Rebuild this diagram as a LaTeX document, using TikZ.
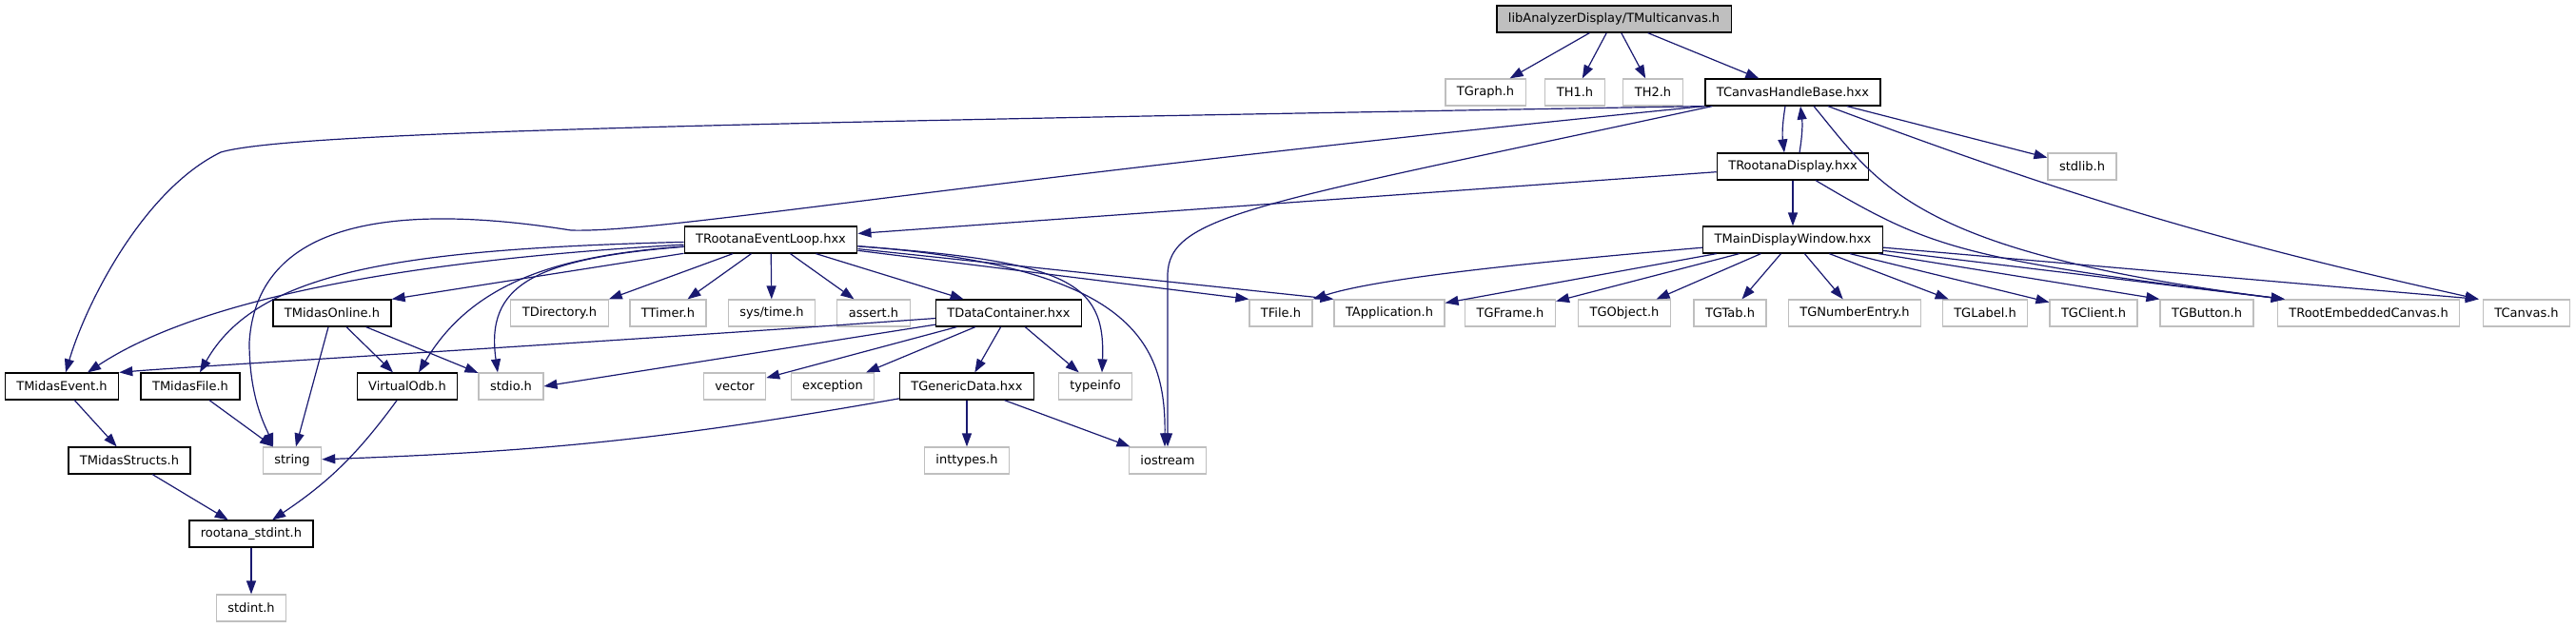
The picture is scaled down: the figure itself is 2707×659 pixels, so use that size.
\documentclass[tikz,border=0pt]{standalone}
\usepackage{fontspec}
\setmainfont{DejaVu Sans}
\usetikzlibrary{arrows.meta}
\definecolor{edgeblue}{HTML}{191970}
\definecolor{sysgray}{HTML}{BFBFBF}
\tikzset{
  hdr/.style={rectangle, draw=black, line width=1.2pt, fill=white, minimum height=28pt,
    inner xsep=12pt, inner ysep=0pt, font=\fontsize{13}{15}\selectfont},
  sys/.style={draw=sysgray},
  mainfile/.style={fill=sysgray},
  dep/.style={draw=edgeblue, line width=1.2pt, -{Triangle[length=14pt,width=10pt]}}
}
\begin{document}
\begin{tikzpicture}[x=1pt,y=-1pt]
\useasboundingbox (0,0) rectangle (2707,659);

      \begin{scope}[every node/.style={hdr}]
        \node[mainfile] (multi) at (1696,20) {libAnalyzerDisplay/TMulticanvas.h};
        \node[sys] (tgraph) at (1561,97) {TGraph.h};
        \node[sys] (th1) at (1655,97) {TH1.h};
        \node[sys] (th2) at (1737,97) {TH2.h};
        \node (hbase) at (1884,97) {TCanvasHandleBase.hxx};
        \node (display) at (1884,175) {TRootanaDisplay.hxx};
        \node[sys] (stdlib) at (2188,175) {stdlib.h};
        \node (eventloop) at (810,252) {TRootanaEventLoop.hxx};
        \node (mainwin) at (1884,252) {TMainDisplayWindow.hxx};
        \node (midasonline) at (349,329) {TMidasOnline.h};
        \node[sys] (tdirectory) at (588,329) {TDirectory.h};
        \node[sys] (ttimer) at (702,329) {TTimer.h};
        \node[sys] (systime) at (811,329) {sys/time.h};
        \node[sys] (assert) at (918,329) {assert.h};
        \node (datacont) at (1060,329) {TDataContainer.hxx};
        \node[sys] (tfile) at (1346,329) {TFile.h};
        \node[sys] (tapplication) at (1460,329) {TApplication.h};
        \node[sys] (tgframe) at (1587,329) {TGFrame.h};
        \node[sys] (tgobject) at (1707,329) {TGObject.h};
        \node[sys] (tgtab) at (1818,329) {TGTab.h};
        \node[sys] (tgnumber) at (1949,329) {TGNumberEntry.h};
        \node[sys] (tglabel) at (2086,329) {TGLabel.h};
        \node[sys] (tgclient) at (2200,329) {TGClient.h};
        \node[sys] (tgbutton) at (2319,329) {TGButton.h};
        \node[sys] (trootemb) at (2489,329) {TRootEmbeddedCanvas.h};
        \node[sys] (tcanvas) at (2655,329) {TCanvas.h};
        \node (midasevent) at (65,406) {TMidasEvent.h};
        \node (midasfile) at (200,406) {TMidasFile.h};
        \node (virtualodb) at (428,406) {VirtualOdb.h};
        \node[sys] (stdio) at (537,406) {stdio.h};
        \node[sys] (vector) at (772,406) {vector};
        \node[sys] (exception) at (875,406) {exception};
        \node (genericdata) at (1016,406) {TGenericData.hxx};
        \node[sys] (typeinfo) at (1151,406) {typeinfo};
        \node (midasstructs) at (136,484) {TMidasStructs.h};
        \node[sys] (string) at (307,484) {string};
        \node[sys] (inttypes) at (1016,484) {inttypes.h};
        \node[sys] (iostream) at (1227,484) {iostream};
        \node (rootanastdint) at (264,561) {rootana\_stdint.h};
        \node[sys] (stdint) at (264,639) {stdint.h};
      \end{scope}

      \begin{scope}[every edge/.style={dep}]
        \path (multi) edge (tgraph);
        \path (multi) edge (th1);
        \path (multi) edge (th2);
        \path (multi) edge (hbase);

        \path ([xshift=-8pt]hbase.south) edge[bend right=8] ([xshift=-9pt]display.north);
        \path ([xshift=7pt]display.north) edge[bend right=8] ([xshift=8pt]hbase.south);
        \path (hbase) edge (stdlib);
        \path ([xshift=37pt]hbase.south) edge[bend right=4] ([xshift=-4pt]tcanvas.north west);
        \draw[dep] ([xshift=22pt]hbase.south) .. controls (1975,195) and (2010,265) .. ([xshift=8pt]trootemb.north west);
        \draw[dep] (hbase.south west) .. controls (700,130) and (300,140) .. (232,160)
          .. controls (150,200) and (90,320) .. ([xshift=4pt]midasevent.north);
        \draw[dep] (hbase.south west) .. controls (1000,190) and (700,245) .. (600,242)
          .. controls (430,215) and (270,225) .. (262,360)
          .. controls (262,420) and (280,450) .. ([xshift=-20pt]string.north);
        \draw[dep] ([xshift=8pt]hbase.south west) .. controls (1320,215) and (1227,225) .. (1227,290) -- (iostream.north);

        \path (display) edge (eventloop);
        \path (display) edge (mainwin);
        \draw[dep] ([xshift=24pt]display.south) .. controls (2030,262) and (2060,272) .. ([xshift=8pt]trootemb.north west);

        \draw[dep] (mainwin) .. controls (1560,280) and (1440,295) .. (tfile.north east);
        \path (mainwin) edge (tapplication);
        \path (mainwin) edge (tgframe);
        \path (mainwin) edge (tgobject);
        \path (mainwin) edge (tgtab);
        \path (mainwin) edge (tgnumber);
        \path (mainwin) edge (tglabel);
        \path (mainwin) edge (tgclient);
        \path (mainwin) edge (tgbutton.north west);
        \path (mainwin) edge ([xshift=8pt]trootemb.north west);
        \path (mainwin) edge ([xshift=-4pt]tcanvas.north west);

        \path (eventloop) edge (midasonline.north east);
        \path (eventloop) edge (tdirectory.north east);
        \path (eventloop) edge (ttimer);
        \path (eventloop) edge (systime);
        \path (eventloop) edge (assert);
        \path (eventloop) edge (datacont);
        \path (eventloop) edge (tfile.north west);
        \path (eventloop) edge (tapplication.north west);
        \draw[dep] (eventloop) .. controls (1120,275) and (1162,295) .. ([xshift=7pt]typeinfo.north);
        \draw[dep] (eventloop) .. controls (1190,280) and (1225,360) .. ([xshift=-3pt]iostream.north);
        \draw[dep] (eventloop) .. controls (400,275) and (200,320) .. ([xshift=27pt]midasevent.north);
        \draw[dep] (eventloop) .. controls (420,262) and (270,285) .. ([xshift=10pt]midasfile.north);
        \draw[dep] (eventloop) .. controls (600,268) and (500,290) .. ([xshift=12pt]virtualodb.north);
        \draw[dep] (eventloop) .. controls (560,272) and (510,300) .. ([xshift=-14pt]stdio.north);

        \path (midasonline) edge (string);
        \path (midasonline) edge (virtualodb);
        \path (midasonline) edge (stdio);

        \draw[dep] (datacont) .. controls (600,362) and (200,385) .. (midasevent.north east);
        \path (datacont) edge (stdio.east);
        \path (datacont) edge (vector);
        \path (datacont) edge (exception);
        \path (datacont) edge (genericdata);
        \path (datacont) edge (typeinfo);

        \path (genericdata) edge[bend left=4] (string);
        \path (genericdata) edge (inttypes);
        \path (genericdata) edge (iostream);

        \path (midasevent) edge (midasstructs);
        \path (midasfile) edge (string);
        \path (virtualodb) edge[bend left=10] (rootanastdint);
        \path (midasstructs) edge (rootanastdint);
        \path (rootanastdint) edge (stdint);
      \end{scope}

    \end{tikzpicture}
\end{document}
